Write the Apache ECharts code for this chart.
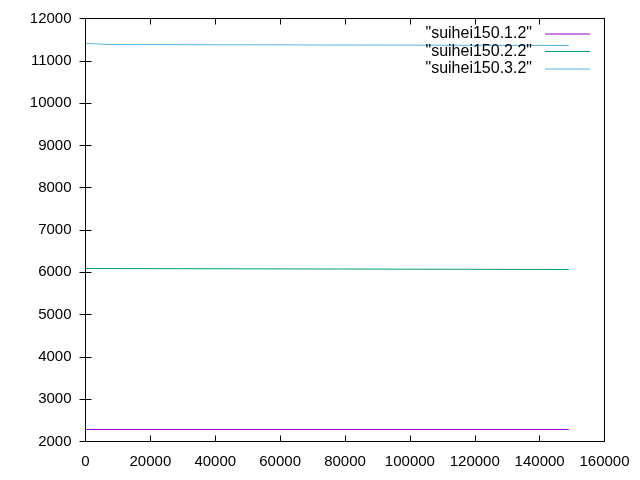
<!DOCTYPE html>
<html><head><meta charset="utf-8">
<script src="https://cdn.jsdelivr.net/npm/echarts@6/dist/echarts.min.js"></script>
<style>html,body{margin:0;padding:0;background:#fff}#c{width:640px;height:480px}</style>
</head><body><div id="c"></div>
<script>
const seriesNames = ['"suihei150.1.2"', '"suihei150.2.2"', '"suihei150.3.2"'];
const seriesColors = ['#9400d3', '#009e73', '#56b4e9'];
const s1x = [0, 149000];
const s1y = [2284, 2284];
const s2x = [0, 400, 400, 149000];
const s2y = [6090, 6090, 6066, 6066];
const s3x = [300, 1300, 1300, 6800, 6800, 149000];
const s3y = [11409, 11409, 11385, 11385, 11362, 11362];
const xTicks = { min: 0, max: 160000, interval: 20000 };
const yTicks = { min: 2000, max: 12000, interval: 1000 };

function pairs(xs, ys) { return xs.map((x, i) => [x, ys[i]]); }
const allData = [pairs(s1x, s1y), pairs(s2x, s2y), pairs(s3x, s3y)];

const font = 'Liberation Sans, Arial, sans-serif';
const chart = echarts.init(document.getElementById('c'), null, { renderer: 'canvas' });
const axisLine = { show: true, lineStyle: { color: '#000', width: 1 } };
const tick = { show: true, inside: true, length: 6, lineStyle: { color: '#000' } };
const plain = v => String(v);
chart.setOption({
  animation: false,
  backgroundColor: '#fff',
  grid: { left: 85.5, right: 35.5, top: 18.5, bottom: 38.5, show: true, borderColor: '#000', borderWidth: 1 },
  legend: {
    right: 45, top: 21, orient: 'vertical', align: 'right',
    itemWidth: 45, itemHeight: 1, itemGap: 1.5,
    icon: 'path://M0,0H45V1H0Z',
    textStyle: { fontFamily: font, fontSize: 16, color: '#000', padding: [0, 8, 0, 0] },
    data: seriesNames
  },
  xAxis: [
    { type: 'value', min: xTicks.min, max: xTicks.max, interval: xTicks.interval,
      axisLine, axisTick: tick, splitLine: { show: false },
      axisLabel: { fontFamily: font, fontSize: 15, color: '#000', margin: 13, formatter: plain } },
    { type: 'value', position: 'top', min: xTicks.min, max: xTicks.max, interval: xTicks.interval,
      axisLine, axisTick: tick, splitLine: { show: false }, axisLabel: { show: false } }
  ],
  yAxis: [
    { type: 'value', min: yTicks.min, max: yTicks.max, interval: yTicks.interval,
      axisLine, axisTick: tick, splitLine: { show: false },
      axisLabel: { fontFamily: font, fontSize: 15, color: '#000', margin: 14, formatter: plain } },
    { type: 'value', position: 'right', min: yTicks.min, max: yTicks.max, interval: yTicks.interval,
      axisLine, axisTick: tick, splitLine: { show: false }, axisLabel: { show: false } }
  ],
  series: seriesNames.map((n, i) => ({
    name: n, type: 'line', data: allData[i], showSymbol: false, symbol: 'none',
    color: seriesColors[i], lineStyle: { width: 1, color: seriesColors[i] }, z: 3
  }))
});
</script></body></html>
